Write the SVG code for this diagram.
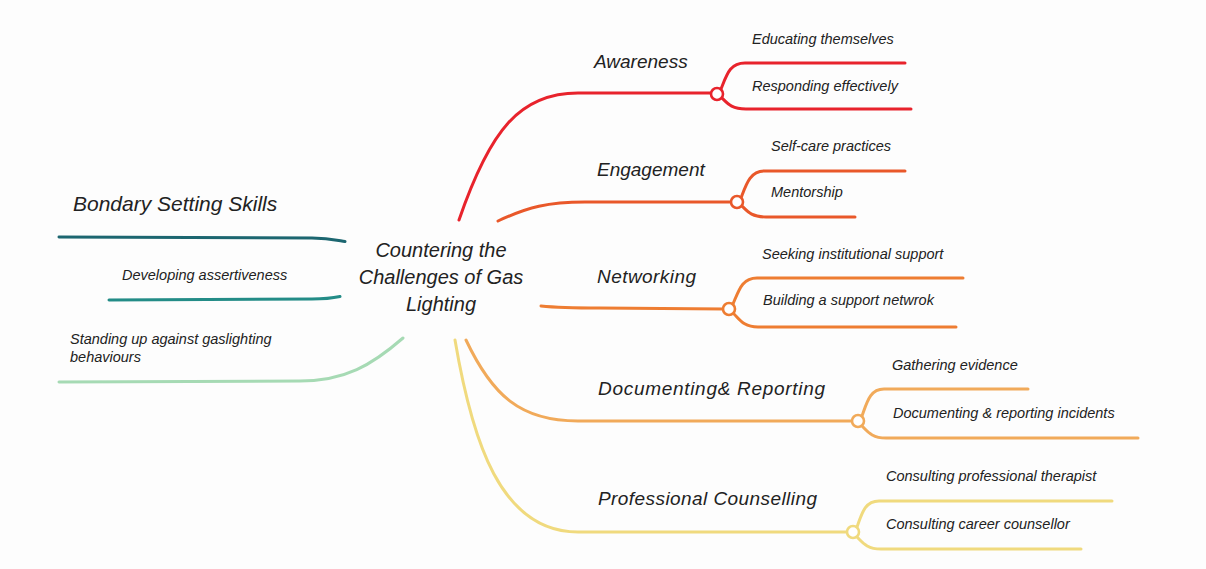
<svg xmlns="http://www.w3.org/2000/svg" width="1206" height="569" viewBox="0 0 1206 569">
  <style>
    text { font-family: "Liberation Sans", Arial, sans-serif; font-style: italic; fill: #222; }
    .root { font-size: 20px; }
    .main { font-size: 19px; }
    .head { font-size: 21px; }
    .sub { font-size: 14.5px; }
    .ln { fill: none; stroke-width: 3; stroke-linecap: round; }
    .dot { fill: #fff; stroke-width: 2.6; }
  </style>
  <rect width="1206" height="569" fill="#fdfdfd"/>

  <g id="connectors">
    <!-- left side -->
    <path class="ln" stroke="#1c6670" d="M59,237 L312,238 C328,238 336,240 345,241.5"/>
    <path class="ln" stroke="#238c87" d="M109,300 L312,299 C326,299 333,298 340,296.5"/>
    <path class="ln" stroke="#a6dab4" d="M59,382 L300,381 C345,381 372,365 403,338"/>

    <!-- Awareness -->
    <path class="ln" stroke="#e8232c" d="M459,220 C490,130 520,93 578,93 L712,93"/>
    <path class="ln" stroke="#e8232c" d="M721,89 C727,74 730,63 745,63 L905,63"/>
    <path class="ln" stroke="#e8232c" d="M722,98 C728,104 732,109 746,109 L911,109"/>
    <circle class="dot" stroke="#e8232c" cx="717" cy="94" r="6"/>

    <!-- Engagement -->
    <path class="ln" stroke="#e9582a" d="M498,221 C528,207 548,202 585,202 L731,202"/>
    <path class="ln" stroke="#e9582a" d="M741,198 C746,185 750,171 764,171 L905,171"/>
    <path class="ln" stroke="#e9582a" d="M742,206 C748,212 752,217 766,217 L855,217"/>
    <circle class="dot" stroke="#e9582a" cx="737" cy="202" r="6"/>

    <!-- Networking -->
    <path class="ln" stroke="#ee7d32" d="M541,306 C560,308 575,308 600,308 L724,309"/>
    <path class="ln" stroke="#ee7d32" d="M733,304 C739,290 742,278 757,278 L963,278"/>
    <path class="ln" stroke="#ee7d32" d="M734,314 C740,320 744,327 758,327 L956,327"/>
    <circle class="dot" stroke="#ee7d32" cx="729" cy="309" r="6"/>

    <!-- Documenting & Reporting -->
    <path class="ln" stroke="#f1aa5a" d="M466,340 C492,395 520,421 578,421 L852,421"/>
    <path class="ln" stroke="#f1aa5a" d="M862,416 C867,402 870,389 884,389 L1028,389"/>
    <path class="ln" stroke="#f1aa5a" d="M862,426 C868,432 872,438 886,438 L1138,438"/>
    <circle class="dot" stroke="#f1aa5a" cx="858" cy="421" r="6"/>

    <!-- Professional Counselling -->
    <path class="ln" stroke="#f0da7e" d="M455,340 C472,440 500,532 578,532 L847,532"/>
    <path class="ln" stroke="#f0da7e" d="M857,527 C862,513 865,501 879,501 L1112,501"/>
    <path class="ln" stroke="#f0da7e" d="M857,537 C863,543 867,549 881,549 L1081,549"/>
    <circle class="dot" stroke="#f0da7e" cx="853" cy="532" r="6"/>
  </g>

  <g id="root">
    <text class="root" text-anchor="middle" x="441" y="257">Countering the</text>
    <text class="root" text-anchor="middle" x="441" y="284">Challenges of Gas</text>
    <text class="root" text-anchor="middle" x="441" y="311">Lighting</text>
  </g>

  <g id="boundary">
    <text class="head" x="73" y="211">Bondary Setting Skills</text>
  </g>
  <g id="boundary-assertiveness">
    <text class="sub" x="122" y="280">Developing assertiveness</text>
  </g>
  <g id="boundary-standing">
    <text class="sub" x="70" y="344">Standing up against gaslighting</text>
    <text class="sub" x="70" y="362">behaviours</text>
  </g>

  <g id="awareness">
    <text class="main" x="594" y="68">Awareness</text>
  </g>
  <g id="awareness-educating">
    <text class="sub" x="752" y="44">Educating themselves</text>
  </g>
  <g id="awareness-responding">
    <text class="sub" x="752" y="91">Responding effectively</text>
  </g>

  <g id="engagement">
    <text class="main" x="597" y="176">Engagement</text>
  </g>
  <g id="engagement-selfcare">
    <text class="sub" x="771" y="151">Self-care practices</text>
  </g>
  <g id="engagement-mentorship">
    <text class="sub" x="771" y="197">Mentorship</text>
  </g>

  <g id="networking">
    <text class="main" x="597" y="283" textLength="99">Networking</text>
  </g>
  <g id="networking-institutional">
    <text class="sub" x="762" y="259">Seeking institutional support</text>
  </g>
  <g id="networking-building">
    <text class="sub" x="763" y="305">Building a support netwrok</text>
  </g>

  <g id="documenting">
    <text class="main" x="598" y="395" textLength="227">Documenting&amp; Reporting</text>
  </g>
  <g id="documenting-evidence">
    <text class="sub" x="892" y="370">Gathering evidence</text>
  </g>
  <g id="documenting-incidents">
    <text class="sub" x="893" y="418">Documenting &amp; reporting incidents</text>
  </g>

  <g id="counselling">
    <text class="main" x="598" y="505" textLength="219">Professional Counselling</text>
  </g>
  <g id="counselling-therapist">
    <text class="sub" x="886" y="481">Consulting professional therapist</text>
  </g>
  <g id="counselling-career">
    <text class="sub" x="886" y="529">Consulting career counsellor</text>
  </g>
</svg>
